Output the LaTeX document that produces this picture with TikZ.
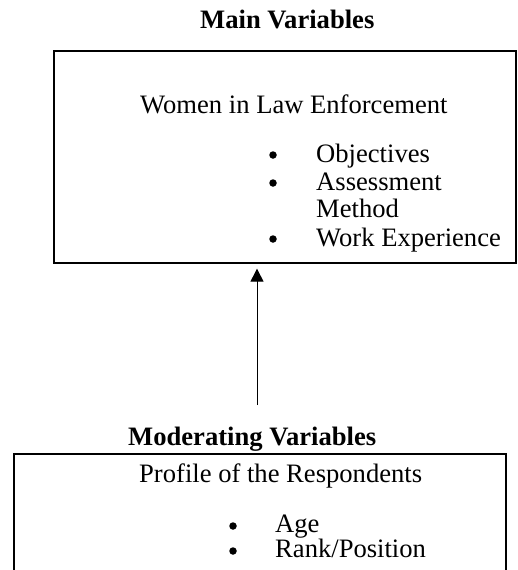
\documentclass[tikz,border=0pt]{standalone}
\usepackage{fontspec}
\setmainfont{Liberation Serif}
\usetikzlibrary{arrows.meta}
\begin{document}
\begin{tikzpicture}[x=1pt,y=-1pt,
  txt/.style={anchor=base west,inner sep=0pt,font=\fontsize{26.6}{30}\selectfont},
  ttl/.style={anchor=base west,inner sep=0pt,font=\fontsize{26.6}{30}\selectfont\bfseries},
  bul/.style={circle,fill=black,inner sep=0pt,minimum size=7.5pt},
  frame/.style={draw,line width=1.3pt,rectangle,inner sep=0pt}]
\useasboundingbox (0,0) rectangle (517,570);
\clip (0,0) rectangle (517,570);
\fill[white] (0,0) rectangle (517,570);
% top
\node[ttl] (mainttl) at (200,28) {Main Variables};
\node[frame,minimum width=462pt,minimum height=212pt] (mainbox) at (285,157) {};
\node[txt] (wle) at (140,113) {Women in Law Enforcement};
\node[bul] (b1) at (273,155) {};
\node[txt] (obj) at (316,162) {Objectives};
\node[bul] (b2) at (273,183) {};
\node[txt] (ass) at (316,190) {Assessment};
\node[txt] (meth) at (316,217) {Method};
\node[bul] (b3) at (273,239) {};
\node[txt] (work) at (316,246) {Work Experience};
% arrow
\coordinate (foot) at (257,405);
\draw[line width=1pt,-{Triangle[width=13pt,length=13pt]},shorten >=5pt] (foot) -- (foot |- mainbox.south);
% bottom
\node[ttl] (modttl) at (128,445) {Moderating Variables};
\node[frame,minimum width=492pt,minimum height=160pt] (modbox) at (260,534) {};
\node[txt] (prof) at (139,482) {Profile of the Respondents};
\node[bul] (b4) at (233,526) {};
\node[txt] (age) at (275,532) {Age};
\node[bul] (b5) at (233,551) {};
\node[txt] (rank) at (275,557) {Rank/Position};
\end{tikzpicture}
\end{document}
